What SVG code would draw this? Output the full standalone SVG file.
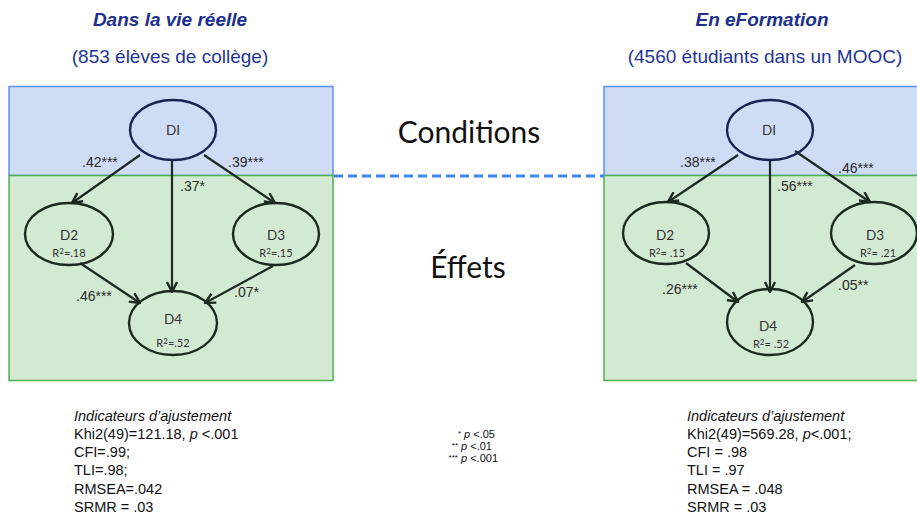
<svg xmlns="http://www.w3.org/2000/svg" width="917" height="517" viewBox="0 0 917 517">
  <style>
    .title { font-family: "Liberation Sans", Arial, sans-serif; font-size: 19px; font-weight: bold; font-style: italic; fill: #1b2f8c; text-anchor: middle; }
    .sub { font-family: "Liberation Sans", Arial, sans-serif; font-size: 19px; fill: #1f3596; text-anchor: middle; }
    .zone-c { fill: #cfdcf6; stroke: #5b92f2; stroke-width: 1.5; }
    .zone-e { fill: #d3ead2; stroke: #4cb050; stroke-width: 1.5; }
    .node { fill: none; stroke: #1a2a1c; stroke-width: 2.4; }
    .node-top { fill: none; stroke: #1b2450; stroke-width: 2.4; }
    .nlabel { font-family: Lato, "Open Sans", sans-serif; font-size: 13.5px; fill: #333; text-anchor: middle; }
    .r2 { font-family: Lato, "Open Sans", sans-serif; font-size: 11px; fill: #333; text-anchor: middle; }
    .coef { font-family: "Liberation Sans", Arial, sans-serif; font-size: 14px; fill: #2a2a2a; }
    .big { font-family: Lato, "Open Sans", sans-serif; font-size: 30px; fill: #111; text-anchor: middle; }
    .fit { font-family: "Liberation Sans", Arial, sans-serif; font-size: 14.5px; fill: #111; }
    .leg { font-family: "Liberation Sans", Arial, sans-serif; font-size: 11px; fill: #111; text-anchor: end; }
    .edge { stroke: #1c2a22; stroke-width: 2.2; fill: none; marker-end: url(#arr); }
  </style>
  <defs>
    <marker id="arr" viewBox="0 0 12 12" refX="11" refY="6" markerWidth="5.5" markerHeight="5.5" markerUnits="strokeWidth" orient="auto">
      <polyline points="1,1 11,6 1,11" fill="none" stroke="#1c2a22" stroke-width="2.4"/>
    </marker>
  </defs>

  <rect width="917" height="517" fill="#ffffff"/>

  <!-- headings -->
  <text class="title" x="170" y="26">Dans la vie réelle</text>
  <text class="sub" x="170" y="63">(853 élèves de collège)</text>
  <text class="title" x="762" y="26">En eFormation</text>
  <text class="sub" x="765" y="63">(4560 étudiants dans un MOOC)</text>

  <!-- zones -->
  <g id="zones">
    <rect class="zone-c" x="9" y="86.5" width="324" height="89"/>
    <rect class="zone-e" x="9" y="175.5" width="324" height="205"/>
    <rect class="zone-c" x="604" y="86.5" width="320" height="89"/>
    <rect class="zone-e" x="604" y="175.5" width="320" height="205"/>
    <line x1="334" y1="176" x2="604" y2="176" stroke="#3d86f0" stroke-width="3" stroke-dasharray="9,5"/>
    <text class="big" x="469" y="143">Conditions</text>
    <text class="big" x="468" y="278">Éffets</text>
  </g>

  <!-- connectors -->
  <g id="connectors">
    <line class="edge" x1="140" y1="155" x2="72" y2="203"/>
    <line class="edge" x1="172" y1="160" x2="172" y2="292"/>
    <line class="edge" x1="204" y1="155" x2="275" y2="203"/>
    <line class="edge" x1="80" y1="263" x2="140" y2="303"/>
    <line class="edge" x1="273" y1="266" x2="205" y2="303"/>

    <line class="edge" x1="738" y1="155" x2="668" y2="202"/>
    <line class="edge" x1="770" y1="160" x2="770" y2="292"/>
    <line class="edge" x1="795" y1="151" x2="870" y2="202"/>
    <line class="edge" x1="686" y1="263" x2="738" y2="302"/>
    <line class="edge" x1="855" y1="265" x2="802" y2="302"/>

    <text class="coef" x="82" y="167">.42***</text>
    <text class="coef" x="228" y="167">.39***</text>
    <text class="coef" x="180" y="191">.37*</text>
    <text class="coef" x="76" y="301">.46***</text>
    <text class="coef" x="234" y="297">.07*</text>

    <text class="coef" x="680" y="167">.38***</text>
    <text class="coef" x="838" y="173">.46***</text>
    <text class="coef" x="777" y="191">.56***</text>
    <text class="coef" x="662" y="294">.26***</text>
    <text class="coef" x="838" y="290">.05**</text>
  </g>

  <!-- left model -->
  <g id="L-D1">
    <ellipse class="node-top" cx="173" cy="130" rx="43" ry="30"/>
    <text class="nlabel" x="173" y="135">DI</text>
  </g>
  <g id="L-D2">
    <ellipse class="node" cx="69" cy="234" rx="44" ry="31"/>
    <text class="nlabel" x="69" y="240">D2</text>
    <text class="r2" x="69" y="257">R<tspan font-size="8" dy="-3.5">2</tspan><tspan dy="3.5">=.18</tspan></text>
  </g>
  <g id="L-D3">
    <ellipse class="node" cx="276" cy="234" rx="43" ry="31"/>
    <text class="nlabel" x="276" y="240">D3</text>
    <text class="r2" x="276" y="257">R<tspan font-size="8" dy="-3.5">2</tspan><tspan dy="3.5">=.15</tspan></text>
  </g>
  <g id="L-D4">
    <ellipse class="node" cx="173" cy="323" rx="44" ry="32"/>
    <text class="nlabel" x="173" y="324">D4</text>
    <text class="r2" x="173" y="347">R<tspan font-size="8" dy="-3.5">2</tspan><tspan dy="3.5">=.52</tspan></text>
  </g>

  <!-- right model -->
  <g id="R-D1">
    <ellipse class="node-top" cx="770" cy="130" rx="43" ry="30"/>
    <text class="nlabel" x="769" y="135">DI</text>
  </g>
  <g id="R-D2">
    <ellipse class="node" cx="666" cy="233" rx="43" ry="31"/>
    <text class="nlabel" x="665" y="240">D2</text>
    <text class="r2" x="667" y="257">R<tspan font-size="8" dy="-3.5">2</tspan><tspan dy="3.5">= .15</tspan></text>
  </g>
  <g id="R-D3">
    <ellipse class="node" cx="874" cy="233" rx="43" ry="31"/>
    <text class="nlabel" x="875" y="240">D3</text>
    <text class="r2" x="878" y="257">R<tspan font-size="8" dy="-3.5">2</tspan><tspan dy="3.5">= .21</tspan></text>
  </g>
  <g id="R-D4">
    <ellipse class="node" cx="770" cy="322" rx="43" ry="33"/>
    <text class="nlabel" x="768" y="331">D4</text>
    <text class="r2" x="771" y="348">R<tspan font-size="8" dy="-3.5">2</tspan><tspan dy="3.5">= .52</tspan></text>
  </g>

  <!-- fit indices -->
  <g id="fit-left" class="fit">
    <text x="74" y="421" font-style="italic">Indicateurs d’ajustement</text>
    <text x="74" y="439">Khi2(49)=121.18, <tspan font-style="italic">p</tspan> &lt;.001</text>
    <text x="74" y="457">CFI=.99;</text>
    <text x="74" y="475">TLI=.98;</text>
    <text x="74" y="494">RMSEA=.042</text>
    <text x="74" y="512">SRMR = .03</text>
  </g>
  <g id="legend" class="leg">
    <text x="495" y="438"><tspan font-size="8" dy="-2">*</tspan><tspan dy="2"> </tspan><tspan font-style="italic">p</tspan> &lt;.05</text>
    <text x="492" y="450"><tspan font-size="8" dy="-2">**</tspan><tspan dy="2"> </tspan><tspan font-style="italic">p</tspan> &lt;.01</text>
    <text x="498" y="462"><tspan font-size="8" dy="-2">***</tspan><tspan dy="2"> </tspan><tspan font-style="italic">p</tspan> &lt;.001</text>
  </g>
  <g id="fit-right" class="fit">
    <text x="687" y="421" font-style="italic">Indicateurs d’ajustement</text>
    <text x="687" y="439">Khi2(49)=569.28, <tspan font-style="italic">p</tspan>&lt;.001;</text>
    <text x="687" y="457">CFI = .98</text>
    <text x="687" y="475">TLI = .97</text>
    <text x="687" y="494">RMSEA = .048</text>
    <text x="687" y="512">SRMR = .03</text>
  </g>
</svg>
